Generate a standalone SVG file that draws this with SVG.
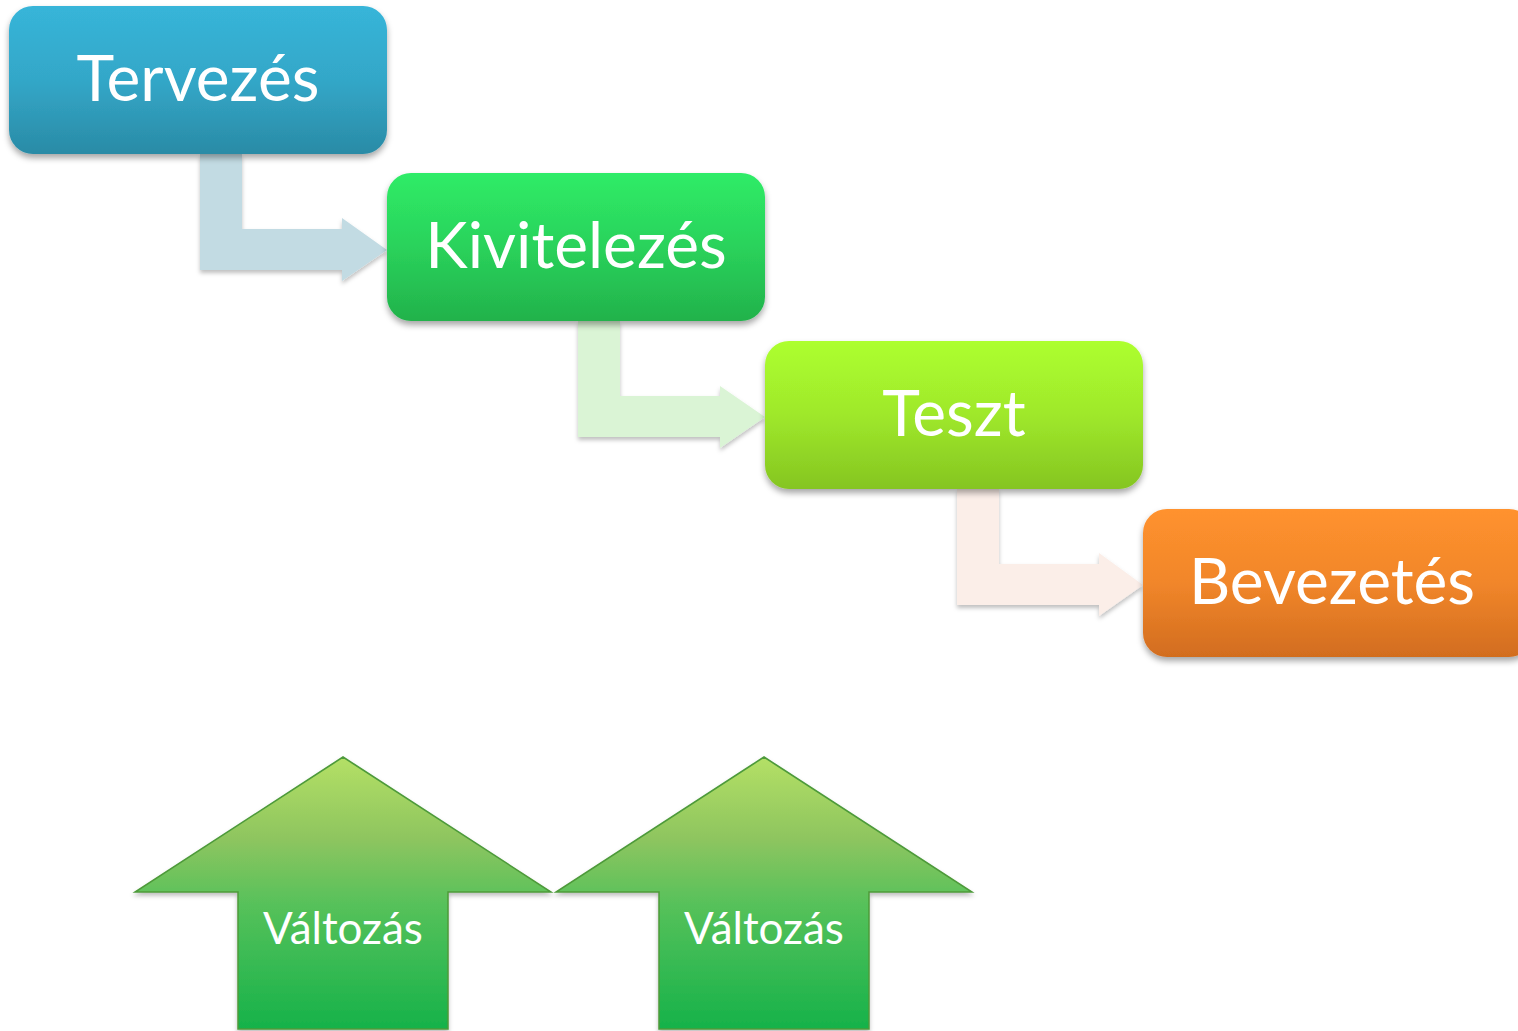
<svg xmlns="http://www.w3.org/2000/svg" width="1518" height="1031" viewBox="0 0 1518 1031">
<defs>
<linearGradient id="gBlue" x1="0" y1="0" x2="0" y2="1"><stop offset="0" stop-color="#37b5d9"/><stop offset="0.5" stop-color="#33a7c8"/><stop offset="1" stop-color="#2a8ba6"/></linearGradient>
<linearGradient id="gGreen" x1="0" y1="0" x2="0" y2="1"><stop offset="0" stop-color="#2fec67"/><stop offset="0.5" stop-color="#2ad25b"/><stop offset="1" stop-color="#22b24b"/></linearGradient>
<linearGradient id="gLime" x1="0" y1="0" x2="0" y2="1"><stop offset="0" stop-color="#adff2f"/><stop offset="0.5" stop-color="#9fe82b"/><stop offset="1" stop-color="#85c521"/></linearGradient>
<linearGradient id="gOrange" x1="0" y1="0" x2="0" y2="1"><stop offset="0" stop-color="#ff922e"/><stop offset="0.5" stop-color="#f1862a"/><stop offset="1" stop-color="#d26d1f"/></linearGradient>
<linearGradient id="gUp" x1="0" y1="0" x2="0" y2="1"><stop offset="0" stop-color="#b4e066"/><stop offset="0.3" stop-color="#8ec55f"/><stop offset="0.55" stop-color="#55c15a"/><stop offset="1" stop-color="#16b24a"/></linearGradient>
<filter id="sh" x="-10%" y="-10%" width="120%" height="130%"><feDropShadow dx="0" dy="4" stdDeviation="3" flood-color="#000" flood-opacity="0.35"/></filter>
<filter id="sh2" x="-10%" y="-10%" width="120%" height="130%"><feDropShadow dx="0" dy="3" stdDeviation="2" flood-color="#000" flood-opacity="0.25"/></filter>
</defs>
<style>
.lbl{font-family:Lato,"Open Sans","Liberation Sans",sans-serif;fill:#fff;text-anchor:middle}
.big{font-size:64px}
.small{font-size:44px}
</style>
<g id="connectors" filter="url(#sh2)">
<path d="M200,154 H242 V229 H342 V218 L387,250 L342,281 V270 H200 Z" fill="#c2dbe3"/>
<path d="M578,321 H620 V396 H720 V386 L765,417 L720,448 V437 H578 Z" fill="#daf4d5"/>
<path d="M957,489 H999 V564 H1099 V553 L1143,585 L1099,616 V605 H957 Z" fill="#fbeee8"/>
</g>
<g id="n1"><rect x="9" y="6" width="378" height="148" rx="24" fill="url(#gBlue)" filter="url(#sh)"/><text class="lbl big" x="198" y="101">Tervezés</text></g>
<g id="n2"><rect x="387" y="173" width="378" height="148" rx="24" fill="url(#gGreen)" filter="url(#sh)"/><text class="lbl big" x="576" y="268">Kivitelezés</text></g>
<g id="n3"><rect x="765" y="341" width="378" height="148" rx="24" fill="url(#gLime)" filter="url(#sh)"/><text class="lbl big" x="954" y="436">Teszt</text></g>
<g id="n4"><rect x="1143" y="509" width="390" height="148" rx="24" fill="url(#gOrange)" filter="url(#sh)"/><text class="lbl big" x="1332" y="604">Bevezetés</text></g>
<g id="u1"><path d="M343,757 L551,892 H448 V1029 H238 V892 H135 Z" fill="url(#gUp)" stroke="#4d9a3a" stroke-width="1.5" filter="url(#sh2)"/><text class="lbl small" x="343" y="944">Változás</text></g>
<g id="u2"><path d="M764,757 L972,892 H869 V1029 H659 V892 H556 Z" fill="url(#gUp)" stroke="#4d9a3a" stroke-width="1.5" filter="url(#sh2)"/><text class="lbl small" x="764" y="944">Változás</text></g>
</svg>
